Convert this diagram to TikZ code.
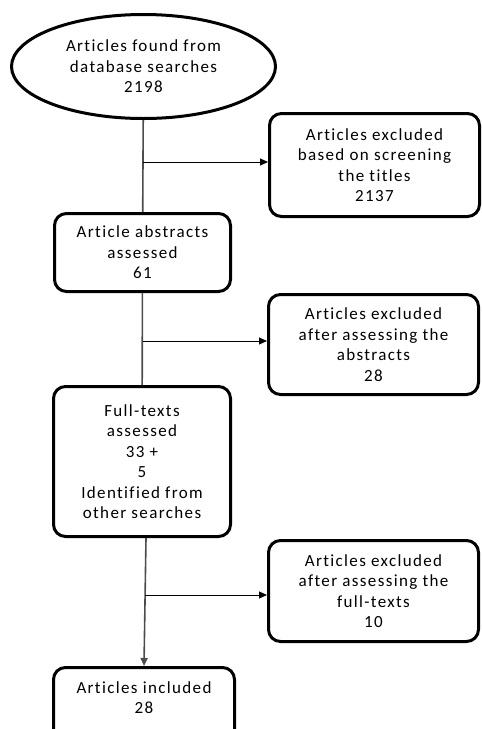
\documentclass[tikz,border=0pt]{standalone}
\usepackage{fontspec}
\setmainfont[LetterSpace=8, Ligatures=NoCommon]{Carlito}
\usetikzlibrary{shapes.geometric,arrows.meta}
\begin{document}
\begin{tikzpicture}[x=1pt, y=-1pt]
    \tikzstyle{source}=[ellipse, draw=black, line width=3pt, align=center, inner sep=0pt, font=\fontsize{17}{20.5}\selectfont]
    \tikzstyle{stage}=[rectangle, draw=black, line width=3pt, rounded corners=12pt, align=center, inner sep=0pt, font=\fontsize{17}{20.5}\selectfont]
    \tikzstyle{boxtext}=[align=center, inner sep=0pt, font=\fontsize{17}{20.5}\selectfont]
    \tikzstyle{trunk}=[line width=1.6pt, draw=black!70]
    \tikzstyle{branch}=[line width=1pt, -{Triangle[length=8pt,width=7pt]}]
    \useasboundingbox (0,0) rectangle (482,729);
    \clip (0,0) rectangle (482,729);
    % main column
    \node[source, minimum width=264pt, minimum height=104pt] (found) at (143.5,66.5){Articles found from\\database searches\\2198};
    \node[stage, minimum width=176pt, minimum height=78pt] (abstr) at (142.5,252.5){Article abstracts\\assessed\\61};
    \node[stage, minimum width=177pt, minimum height=150pt] (full) at (142,461.5){Full-texts\\assessed\\33 +\\5\\Identified from\\other searches};
    \node[stage, minimum width=181pt, minimum height=100pt, anchor=north] (incl) at (144,666){};
    \node[boxtext] (incltext) at (144,697.5){Articles included\\28};
    % exclusions
    \node[stage, minimum width=210pt, minimum height=103pt] (exttl) at (374.5,165){Articles excluded\\based on screening\\the titles\\2137};
    \node[stage, minimum width=210pt, minimum height=100pt] (exabs) at (373.5,344.5){Articles excluded\\after assessing the\\abstracts\\28};
    \node[stage, minimum width=210pt, minimum height=101pt] (exfull) at (373.5,591){Articles excluded\\after assessing the\\full-texts\\10};
    \coordinate (j1) at (143,162);
    \coordinate (j2) at (143,341);
    \coordinate (j3) at (145,595);
    \draw[trunk] (found) -- (abstr);
    \draw[trunk] (abstr) -- (full);
    \draw[trunk, -{Triangle[length=8pt,width=7pt]}] ([xshift=4pt]full.south) -- (incl.north);
    \draw[branch] (j1) -- (j1 -| exttl.west);
    \draw[branch] (j2) -- (j2 -| exabs.west);
    \draw[branch] (j3) -- (j3 -| exfull.west);
  \end{tikzpicture}
\end{document}
